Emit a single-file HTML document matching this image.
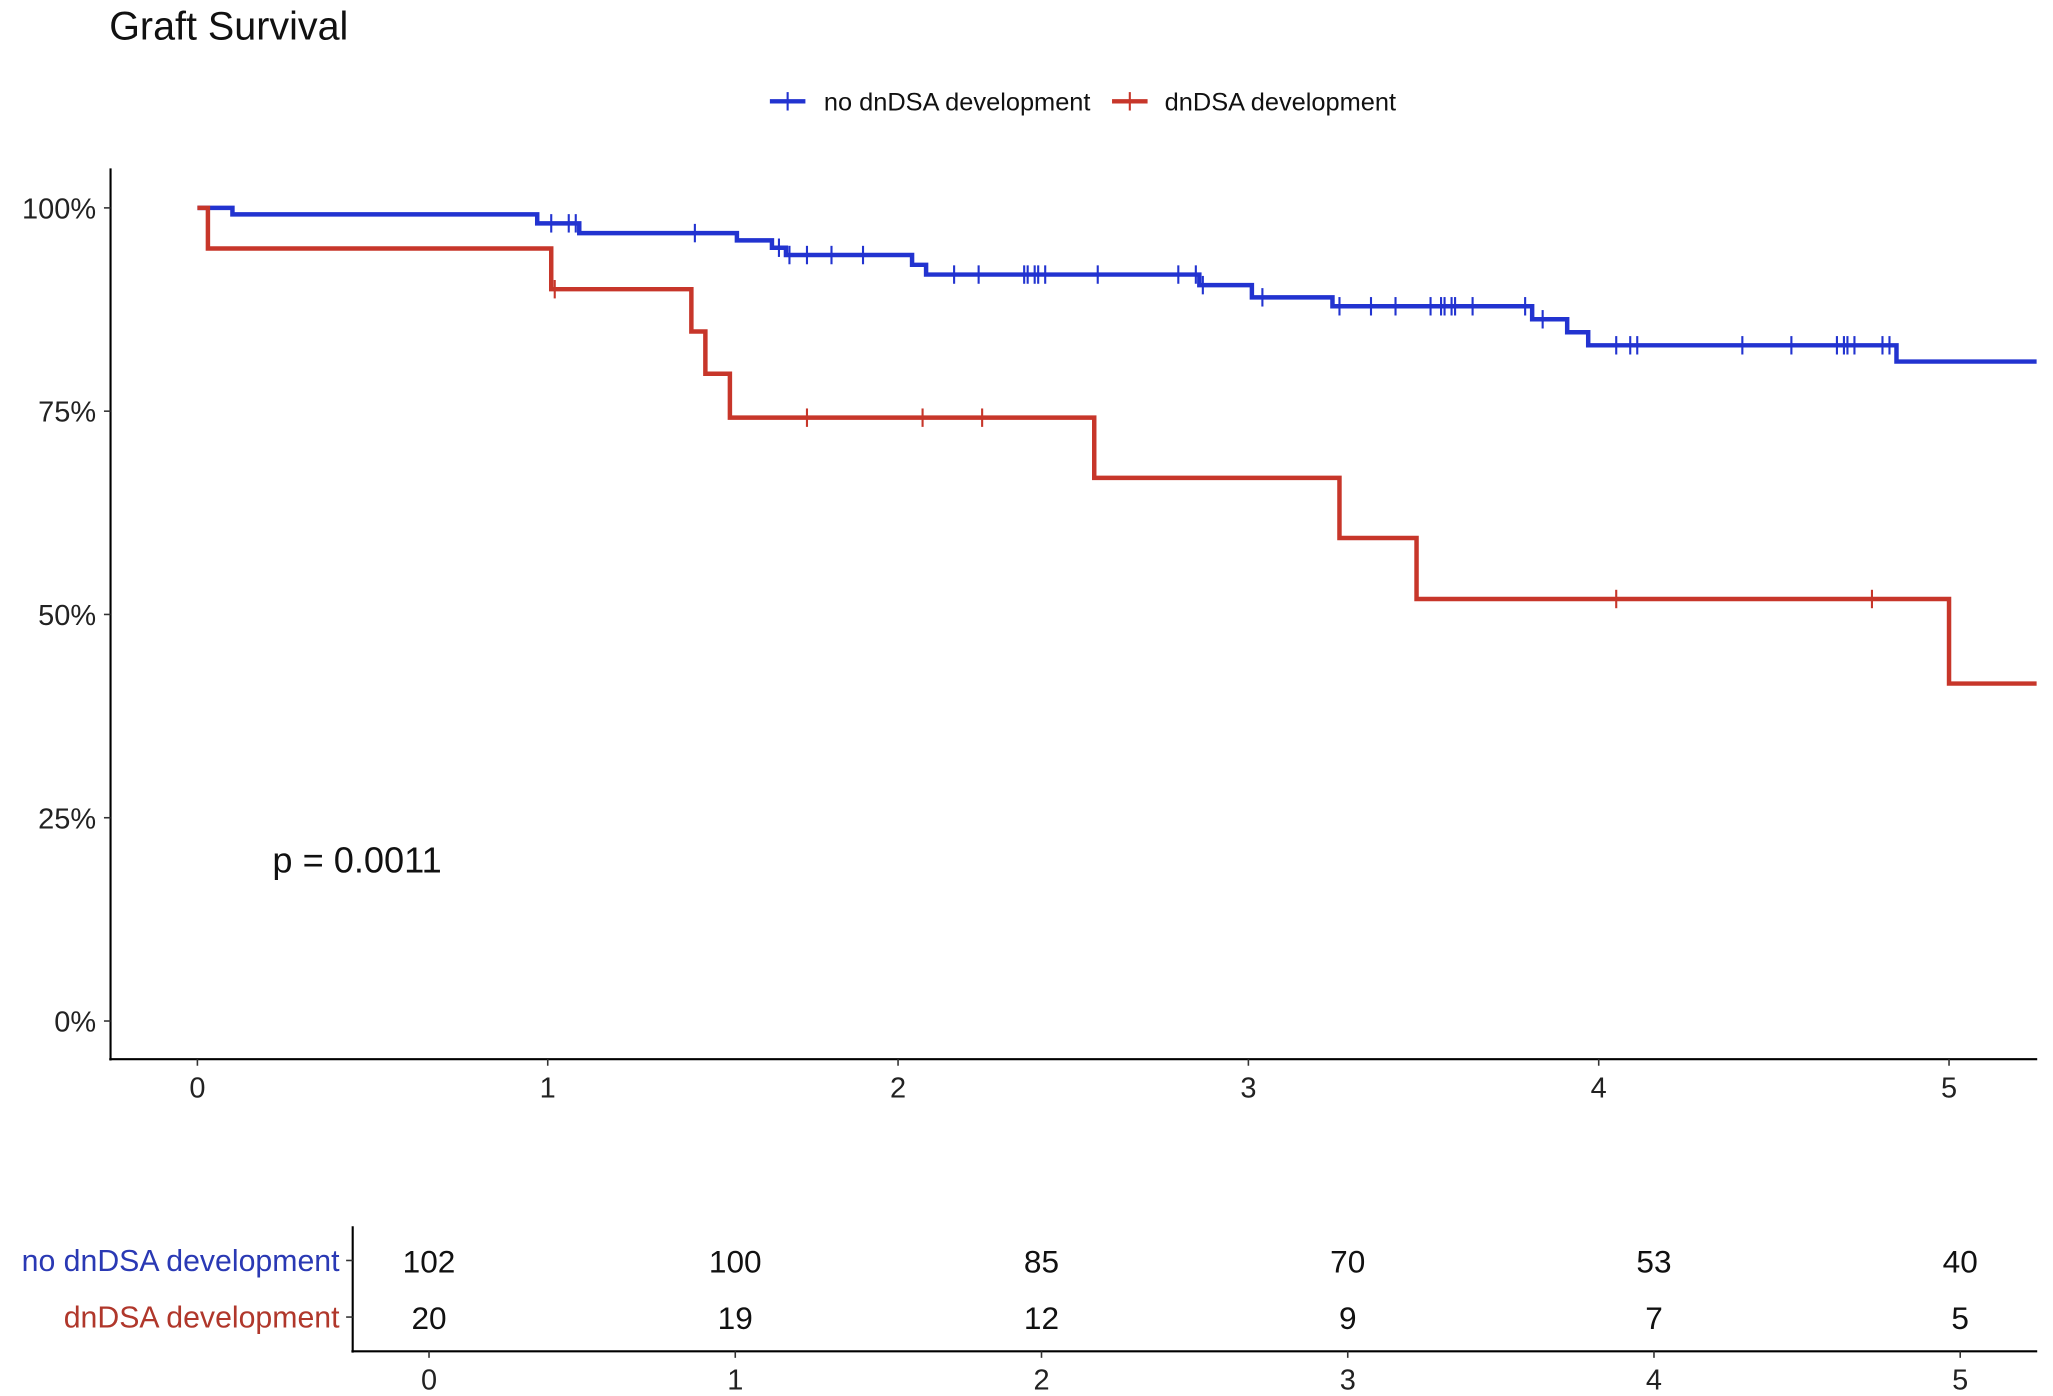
<!DOCTYPE html>
<html><head><meta charset="utf-8">
<style>
html,body{margin:0;padding:0;background:#fff;}
svg{display:block;font-family:"Liberation Sans",Arial,sans-serif;}
</style></head>
<body>
<svg id="chart" width="2053" height="1396" viewBox="0 0 1560 1061" preserveAspectRatio="none" xmlns="http://www.w3.org/2000/svg">
<rect width="1560" height="1061" fill="#fff"/>
<text x="83" y="30" font-size="30" fill="#111">Graft Survival</text>
<g id="legend"></g>
<g id="plot"></g>
<g id="risk"></g>
</svg>
<script>
// ---- data ----
const blueTimes = [0, 0.10, 0.97, 1.09, 1.54, 1.64, 1.68, 2.04, 2.08, 2.86, 3.01, 3.24, 3.81, 3.91, 3.97, 4.85];
const blueSurv  = [100, 99.2, 98.1, 96.9, 96.0, 95.1, 94.2, 93.0, 91.8, 90.5, 89.0, 87.9, 86.3, 84.7, 83.1, 81.1];
const blueCensor = [1.01,1.06,1.08,1.42,1.66,1.69,1.74,1.81,1.90,2.16,2.23,2.36,2.37,2.39,2.40,2.42,2.57,2.80,2.85,2.87,3.04,3.26,3.35,3.42,3.52,3.55,3.56,3.58,3.59,3.64,3.79,3.84,4.05,4.09,4.11,4.41,4.55,4.68,4.70,4.71,4.73,4.81,4.83];
const redTimes = [0, 0.03, 1.01, 1.41, 1.45, 1.52, 2.56, 3.26, 3.48, 5.00];
const redSurv  = [100, 95.0, 90.0, 84.8, 79.6, 74.2, 66.8, 59.4, 51.9, 41.5];
const redCensor = [1.02, 1.74, 2.07, 2.24, 4.05, 4.78];
const xTicks = [0,1,2,3,4,5];
const yTicks = [0,25,50,75,100];
const yTickLabels = ["0%","25%","50%","75%","100%"];
const riskGroups = ["no dnDSA development","dnDSA development"];
const riskBlue = [102,100,85,70,53,40];
const riskRed = [20,19,12,9,7,5];
const pValueText = "p = 0.0011";
const tMax = 5.25;

// ---- scales ----
const X = t => 150 + t*266.2;
const Y = s => 776 - s*6.18;
const RX = t => 326 + t*232.7;
const NS = "http://www.w3.org/2000/svg";
function mk(tag, attrs, parent, text){
  const e = document.createElementNS(NS, tag);
  for (const k in attrs) e.setAttribute(k, attrs[k]);
  if (text !== undefined) e.textContent = text;
  parent.appendChild(e); return e;
}
const plot = document.getElementById('plot');
const risk = document.getElementById('risk');
const legend = document.getElementById('legend');

let a = mk('line',{x1:84,y1:128,x2:84,y2:806,stroke:'#000','stroke-width':1.6},plot);


a = mk('line',{x1:83,y1:805,x2:1548,y2:805,stroke:'#000','stroke-width':1.6},plot);


yTicks.forEach((v,i)=>{
  mk('line',{x1:79,y1:Y(v),x2:84,y2:Y(v),stroke:'#333','stroke-width':1.2},plot);
  const t = mk('text',{x:73,y:Y(v)+8,'text-anchor':'end','font-size':22,fill:'#222'},plot,yTickLabels[i]);
  
  
});
xTicks.forEach(v=>{
  mk('line',{x1:X(v),y1:805,x2:X(v),y2:810,stroke:'#333','stroke-width':1.2},plot);
  const t = mk('text',{x:X(v),y:834,'text-anchor':'middle','font-size':22,fill:'#222'},plot,String(v));
  
  
});

function stepAt(times, surv, t){
  let s = surv[0];
  for (let i=0;i<times.length;i++) if (times[i] <= t) s = surv[i];
  return s;
}
function drawCurve(times, surv, censor, color, name){
  let d = 'M'+X(times[0])+','+Y(surv[0]);
  for (let i=1;i<times.length;i++){
    d += ' H'+X(times[i])+' V'+Y(surv[i]);
  }
  d += ' H'+X(tMax);
  const p = mk('path',{d:d,fill:'none',stroke:color,'stroke-width':3.4},plot);
  
  
  censor.forEach(t=>{
    const y = Y(stepAt(times,surv,t));
    const c = mk('line',{x1:X(t),y1:y-7,x2:X(t),y2:y+7,stroke:color,'stroke-width':1.6},plot);
    
    
  });
}
drawCurve(blueTimes, blueSurv, blueCensor, '#2233d0', 'no-dndsa');
drawCurve(redTimes, redSurv, redCensor, '#c7362a', 'dndsa');

const pv = mk('text',{x:207,y:663,'font-size':27.5,fill:'#111'},plot,pValueText);



[[585,'#2233d0',626,riskGroups[0]],[845,'#c7362a',885,riskGroups[1]]].forEach(([lx,c,tx,label])=>{
  mk('line',{x1:lx,y1:77,x2:lx+27,y2:77,stroke:c,'stroke-width':3.4},legend);
  mk('line',{x1:lx+13.5,y1:70,x2:lx+13.5,y2:84,stroke:c,'stroke-width':1.6},legend);
  const t = mk('text',{x:tx,y:84,'font-size':19.3,fill:'#111'},legend,label);
  
  
});

a = mk('line',{x1:268,y1:932,x2:268,y2:1028,stroke:'#000','stroke-width':1.6},risk);


a = mk('line',{x1:267,y1:1027,x2:1548,y2:1027,stroke:'#000','stroke-width':1.6},risk);


const rowY = [958, 1001];
const rowCol = ['#2a39b4','#b0372b'];
riskGroups.forEach((g,i)=>{
  mk('line',{x1:263,y1:rowY[i],x2:268,y2:rowY[i],stroke:'#333','stroke-width':1.2},risk);
  const t = mk('text',{x:258,y:rowY[i]+8,'text-anchor':'end','font-size':23,fill:rowCol[i]},risk,g);
  
  
});
[riskBlue, riskRed].forEach((arr,i)=>{
  arr.forEach((v,j)=>{
    const t = mk('text',{x:RX(xTicks[j]),y:rowY[i]+9,'text-anchor':'middle','font-size':24,fill:'#111'},risk,String(v));
    
    
  });
});
xTicks.forEach(v=>{
  mk('line',{x1:RX(v),y1:1027,x2:RX(v),y2:1032,stroke:'#333','stroke-width':1.2},risk);
  const t = mk('text',{x:RX(v),y:1056,'text-anchor':'middle','font-size':22,fill:'#222'},risk,String(v));
  
  
});
</script>
</body></html>
